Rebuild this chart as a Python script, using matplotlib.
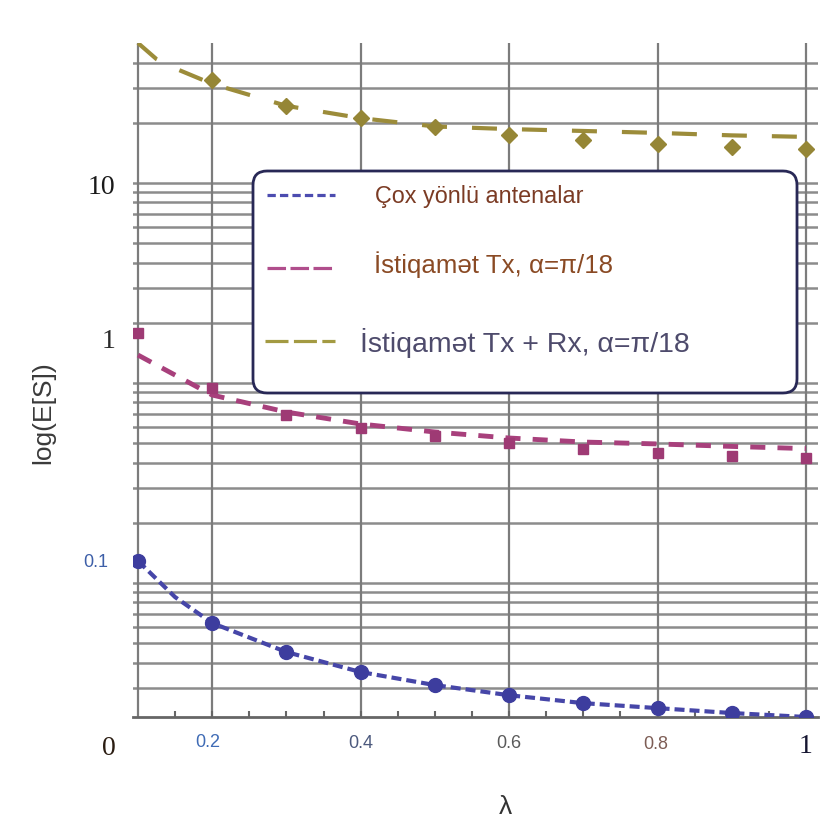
import numpy as np
import matplotlib
matplotlib.use('Agg')
import matplotlib.pyplot as plt
from matplotlib.lines import Line2D
from matplotlib.patches import FancyBboxPatch
from matplotlib.ticker import NullLocator

# data
lam = [0.1, 0.2, 0.3, 0.4, 0.5, 0.6, 0.7, 0.8, 0.9, 1.0]
omni_pts = [0.129, 0.0631, 0.0452, 0.0359, 0.0309, 0.0275, 0.0251, 0.0237, 0.0224, 0.0214]
omni_line_x = [0.1, 0.15, 0.2, 0.3, 0.4, 0.5, 0.6, 0.7, 0.8, 0.9, 1.0]
omni_line = [0.129, 0.0851, 0.0631, 0.0452, 0.0359, 0.0309, 0.0275, 0.0251, 0.0237, 0.0224, 0.0214]

tx_pts = [1.78, 0.944, 0.692, 0.596, 0.543, 0.501, 0.468, 0.447, 0.432, 0.422]
tx_line_x = [0.1, 0.15, 0.2, 0.3, 0.4, 0.5, 0.6, 0.7, 0.8, 0.9, 1.0]
tx_line = [1.38, 1.096, 0.871, 0.716, 0.624, 0.569, 0.531, 0.507, 0.496, 0.482, 0.470]

txrx_x = [0.2, 0.3, 0.4, 0.5, 0.6, 0.7, 0.8, 0.9, 1.0]
txrx_pts = [32.7, 24.3, 21.1, 19.05, 17.4, 16.4, 15.7, 15.1, 14.8]
txrx_line_x = [0.1, 0.125, 0.15, 0.2, 0.3, 0.4, 0.5, 0.6, 0.7, 0.8, 0.9, 1.0]
txrx_line = [50.1, 41.6, 37.4, 31.3, 24.3, 21.1, 19.17, 18.6, 18.2, 17.8, 17.3, 17.0]

labels = ['Çox yönlü antenalar', 'İstiqamət Tx, α=π/18', 'İstiqamət Tx + Rx, α=π/18']

W, H = 828, 827
sans = ['Liberation Sans', 'DejaVu Sans']
serif = ['Liberation Serif', 'DejaVu Serif']

def fx(px):
    return px / W

def fy(py):
    return 1 - py / H

fig = plt.figure(figsize=(W / 100, H / 100), dpi=100)
ax = fig.add_axes([fx(133), fy(717), 685 / W, 674 / H])
ax.set_yscale('log')
ax.set_xlim(0.0933, 1.0162)
ax.set_ylim(0.0214, 50.1)

# grid
for dec in [0.01, 0.1, 1, 10]:
    for k in range(1, 10):
        v = k * dec
        if 0.0214 < v < 50:
            ax.axhline(v, color='#8c8c8c', lw=1.8, zorder=1)
for v in [0.1, 0.2, 0.4, 0.6, 0.8, 1.0]:
    ax.axvline(v, color='#7c7c7c', lw=1.6, zorder=1)

for s in ['top', 'right', 'left']:
    ax.spines[s].set_visible(False)
ax.spines['bottom'].set_color('#666666')
ax.spines['bottom'].set_linewidth(2)
ax.set_xticks([])
ax.set_xticks(np.arange(0.15, 1.0, 0.05), minor=True)
ax.tick_params(axis='x', which='minor', direction='in', length=4, width=1.5,
               color='#666666', labelbottom=False)
ax.set_yticks([])
ax.yaxis.set_minor_locator(NullLocator())

# series
ax.plot(omni_line_x, omni_line, color='#4646a8', lw=3, dashes=(2.4, 1.2), zorder=3)
ax.plot(lam, omni_pts, 'o', color='#3d3d9e', ms=10, zorder=4)
ax.plot(tx_line_x, tx_line, color='#a8407c', lw=3.5, dashes=(3.1, 2.5), zorder=3)
ax.plot(lam, tx_pts, 's', color='#9e3a74', ms=7.5, zorder=4)
ax.plot(txrx_line_x, txrx_line, color='#9c8c3a', lw=3, dashes=(6, 6), zorder=3)
ax.plot(txrx_x, txrx_pts, 'D', color='#958636', ms=8, zorder=4)

# legend box
box = FancyBboxPatch((fx(253), fy(393)), 544 / W, 222 / H,
                     boxstyle='round,pad=0,rounding_size=0.017',
                     transform=fig.transFigure, facecolor='white',
                     edgecolor='#282856', lw=2, zorder=5)
fig.add_artist(box)
leg_y = [195, 268, 341]
leg_colors = ['#4c4cb0', '#b04e8c', '#a39a42']
leg_dash = [(2.6, 1.3), (5.8, 1.4), (7.2, 1.7)]
leg_x0 = [267, 267, 265]
for y, c, d, x0 in zip(leg_y, leg_colors, leg_dash, leg_x0):
    fig.add_artist(Line2D([fx(x0), fx(335)], [fy(y), fy(y)], transform=fig.transFigure,
                          color=c, lw=2.3, dashes=d, zorder=6))
txt_pos = [(375, 203, 16.8, '#7b3b24'), (374, 273, 18.6, '#8a4a24'), (360, 352, 20.5, '#4e4b6c')]
for lab, (x, y, fs, c) in zip(labels, txt_pos):
    fig.text(fx(x), fy(y), lab, fontsize=fs, color=c, family=sans, va='baseline', ha='left', zorder=7)

# tick labels
fig.text(fx(115), fy(194), '10', family=serif, fontsize=20, color='#1a1a1a', ha='right', va='baseline')
fig.text(fx(115), fy(348), '1', family=serif, fontsize=20, color='#2a2a2a', ha='right', va='baseline')
fig.text(fx(108), fy(567), '0.1', family=sans, fontsize=13, color='#3d5fa8', ha='right', va='baseline')

xt = [(109, 755, '0', serif, 20, '#2b1d12'),
      (208, 747, '0.2', sans, 13, '#3f6bb5'),
      (361, 748, '0.4', sans, 13, '#4d5a7e'),
      (509, 748, '0.6', sans, 13, '#5a5a5a'),
      (656, 749, '0.8', sans, 13, '#7d5d55'),
      (806, 753, '1', serif, 20, '#151530')]
for x, y, t, fam, fs, c in xt:
    fig.text(fx(x), fy(y), t, family=fam, fontsize=fs, color=c, ha='center', va='baseline')

fig.text(fx(505), fy(814), 'λ', family=sans, fontsize=19, color='#333333', ha='center', va='baseline')
fig.text(fx(43), fy(413), 'log(E[S])', family=sans, fontsize=19, color='#3a3a3a',
         rotation=90, ha='center', va='center')

fig.savefig('out.png', dpi=100, facecolor='white')
